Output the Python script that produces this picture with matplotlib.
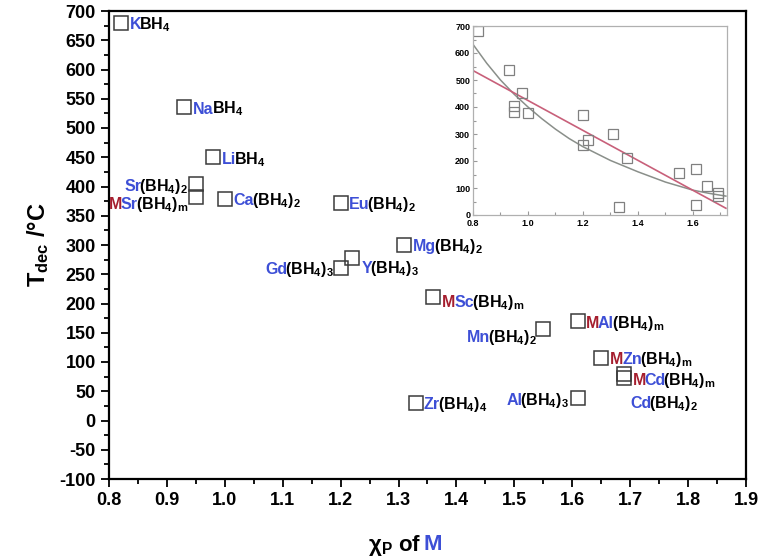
import numpy as np
import matplotlib
matplotlib.use("Agg")
import matplotlib.pyplot as plt
from matplotlib.offsetbox import TextArea, HPacker, AnnotationBbox

plt.rcParams['font.family'] = ['Liberation Sans', 'DejaVu Sans']
plt.rcParams['font.weight'] = 'bold'
plt.rcParams['mathtext.fontset'] = 'custom'
plt.rcParams['mathtext.rm'] = 'Liberation Sans:bold'
plt.rcParams['mathtext.bf'] = 'Liberation Sans:bold'
plt.rcParams['mathtext.it'] = 'Liberation Sans:bold'
plt.rcParams['mathtext.default'] = 'bf'
plt.rcParams['axes.unicode_minus'] = False

AZUL = '#3d4fd6'
VERM = '#a51e2e'
PRETO = 'black'

# dados: electronegatividade de Pauling x T_dec
chi = [0.82, 0.93, 0.98, 0.95, 0.95, 1.00, 1.20, 1.31, 1.20, 1.22,
       1.36, 1.55, 1.61, 1.65, 1.69, 1.69, 1.61, 1.33]
tdec = [680, 536, 450, 404, 382, 379, 372, 300, 261, 278,
        211, 156, 170, 107, 80, 72, 38, 30]

# rótulos: pedaços (texto, cor)
rotulos = [
    [("K", AZUL), ("BH$_4$", PRETO)],
    [("Na", AZUL), ("BH$_4$", PRETO)],
    [("Li", AZUL), ("BH$_4$", PRETO)],
    [("Sr", AZUL), ("(BH$_4$)$_2$", PRETO)],
    [("M", VERM), ("Sr", AZUL), ("(BH$_4$)$_m$", PRETO)],
    [("Ca", AZUL), ("(BH$_4$)$_2$", PRETO)],
    [("Eu", AZUL), ("(BH$_4$)$_2$", PRETO)],
    [("Mg", AZUL), ("(BH$_4$)$_2$", PRETO)],
    [("Gd", AZUL), ("(BH$_4$)$_3$", PRETO)],
    [("Y", AZUL), ("(BH$_4$)$_3$", PRETO)],
    [("M", VERM), ("Sc", AZUL), ("(BH$_4$)$_m$", PRETO)],
    [("Mn", AZUL), ("(BH$_4$)$_2$", PRETO)],
    [("M", VERM), ("Al", AZUL), ("(BH$_4$)$_m$", PRETO)],
    [("M", VERM), ("Zn", AZUL), ("(BH$_4$)$_m$", PRETO)],
    [("M", VERM), ("Cd", AZUL), ("(BH$_4$)$_m$", PRETO)],
    [("Cd", AZUL), ("(BH$_4$)$_2$", PRETO)],
    [("Al", AZUL), ("(BH$_4$)$_3$", PRETO)],
    [("Zr", AZUL), ("(BH$_4$)$_4$", PRETO)],
]
# deslocamento do rótulo em pixels (dx, dy) e lado
desloc = [(9, 0), (9, 0), (9, 0), (-8, 0), (-8, -5), (9, 0), (8, 0), (9, 0),
          (-7, 0), (9, -9), (9, -3), (-7, -6), (8, 0), (9, 0), (8, -5),
          (6, -23), (-9, 0), (8, 0)]

# curvas de ajuste do inset
fit_exp_x = [0.80, 0.85, 0.90, 0.95, 1.00, 1.05, 1.10, 1.15, 1.20, 1.30,
             1.40, 1.50, 1.60, 1.66, 1.72]
fit_exp_y = [632, 562, 500, 447, 400, 357, 318, 283, 253, 202,
             160, 122, 92, 80, 70]
fit_lin_x = [0.80, 1.72]
fit_lin_y = [535, 25]

fig = plt.figure(figsize=(7.61, 5.60), dpi=100)
ax = fig.add_axes([109 / 761, 81 / 560, 637 / 761, 468 / 560])

ax.plot(chi, tdec, 's', ms=9.5, mfc='none', mec='#3a3a3a', mew=1.1)
ax.set_xlim(0.8, 1.9)
ax.set_ylim(-100, 700)
ax.set_xticks(np.arange(0.8, 1.91, 0.1))
ax.set_xticks(np.arange(0.85, 1.9, 0.1), minor=True)
ax.set_yticks(np.arange(-100, 701, 50))
ax.set_yticks(np.arange(-75, 700, 50), minor=True)
ax.set_xticklabels([f"{v:.1f}" for v in np.arange(0.8, 1.91, 0.1)])
ax.tick_params(which='both', direction='out', width=1.3, labelsize=13)
ax.tick_params(which='major', length=6)
ax.tick_params(which='minor', length=3.5)
for s in ax.spines.values():
    s.set_linewidth(1.6)

for x, y, pecas, (dx, dy) in zip(chi, tdec, rotulos, desloc):
    areas = []
    for t, c in pecas:
        if '$' in t:
            t = r"$\!\!$" + t
        areas.append(TextArea(t, textprops=dict(color=c, fontsize=11.5,
                                                fontweight='bold')))
    caixa = HPacker(children=areas, pad=0, sep=-1, align='baseline')
    ab = AnnotationBbox(caixa, (x, y), xybox=(dx, dy - 2),
                        boxcoords='offset pixels',
                        box_alignment=(0 if dx > 0 else 1, 0.5),
                        frameon=False, pad=0, annotation_clip=False)
    ax.add_artist(ab)

# rótulos dos eixos
fig.text(38 / 761, 1 - 245 / 560, "T$_{dec}$ /°C", rotation=90, fontsize=17,
         fontweight='bold', ha='center', va='center')
xl = HPacker(children=[
    TextArea("χ$_P$ of ", textprops=dict(color=PRETO, fontsize=16, fontweight='bold')),
    TextArea("M", textprops=dict(color=AZUL, fontsize=16, fontweight='bold'))],
    pad=0, sep=2, align='baseline')
fig.add_artist(AnnotationBbox(xl, (405 / 761, 1 - 545 / 560), xycoords='figure fraction',
                              box_alignment=(0.5, 0.5), frameon=False, pad=0))

# inset
axi = fig.add_axes([473 / 761, 345 / 560, 254 / 761, 189 / 560])
axi.plot(fit_exp_x, fit_exp_y, color='#8a8f8a', lw=1.1)
axi.plot(fit_lin_x, fit_lin_y, color='#c8607a', lw=1.2)
axi.plot(chi, tdec, 's', ms=6.5, mfc='none', mec='#808080', mew=0.9)
axi.set_xlim(0.8, 1.724)
axi.set_ylim(0, 700)
axi.set_xticks([0.8, 1.0, 1.2, 1.4, 1.6])
axi.set_xticks([0.9, 1.1, 1.3, 1.5, 1.7], minor=True)
axi.set_xticklabels(["0.8", "1.0", "1.2", "1.4", "1.6"])
axi.set_yticks(np.arange(0, 701, 100))
axi.set_yticks(np.arange(50, 700, 100), minor=True)
axi.tick_params(which='both', direction='in', color='#999999', width=0.8,
                labelsize=6.5, pad=2)
axi.tick_params(axis='x', pad=3)
axi.tick_params(which='major', length=3)
axi.tick_params(which='minor', length=2)
for s in axi.spines.values():
    s.set_color('#b0b0b0')
    s.set_linewidth(0.9)

plt.savefig("out.png", dpi=100)
plt.close()
